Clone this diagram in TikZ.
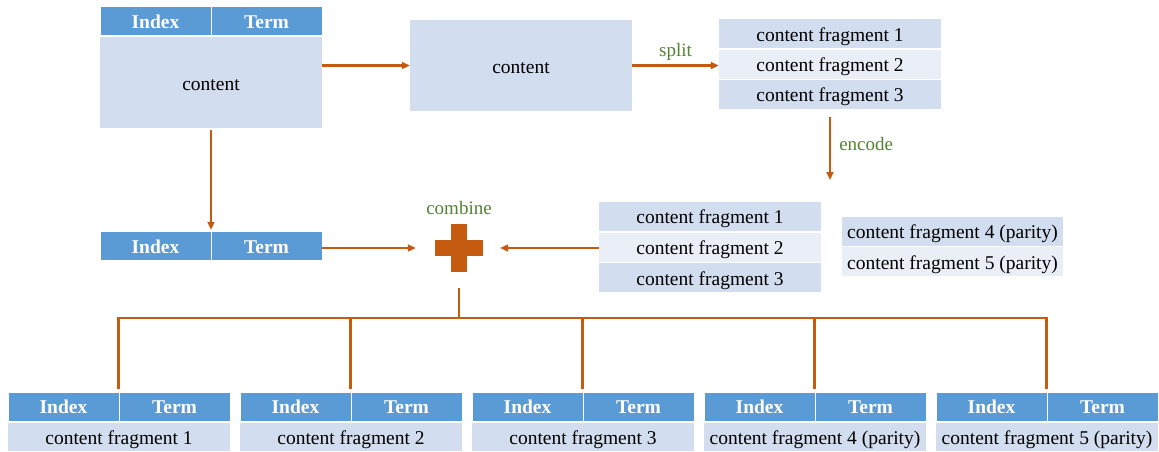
\documentclass[tikz,border=0pt]{standalone}
\usepackage{fontspec}
\setmainfont{Liberation Serif}
\usepackage{tikz}
\usetikzlibrary{positioning}
\usetikzlibrary{arrows.meta}
\usepackage{xcolor}
\definecolor{hdrblue}{HTML}{5B9BD5}
\definecolor{cellblue}{HTML}{D2DEEF}
\definecolor{cellpale}{HTML}{E9EEF7}
\definecolor{linkorange}{HTML}{C55A11}
\definecolor{labelgreen}{HTML}{548235}

\begin{document}
\begin{tikzpicture}[
    x=1pt, y=-1pt,
    hdr/.style={fill=hdrblue, text=white, font=\fontsize{19.5}{21}\selectfont\bfseries,
        minimum width=110pt, minimum height=28pt, inner sep=0pt,
        text height=14.5pt, text depth=0pt},
    cell/.style={fill=cellblue, font=\fontsize{19.5}{21}\selectfont,
        minimum width=222pt, minimum height=29pt, inner sep=0pt,
        text height=16pt, text depth=1pt},
    pale/.style={cell, fill=cellpale},
    arrow/.style={-{Triangle[length=8pt,width=7pt]}, line width=2.5pt, linkorange},
    wire/.style={line width=2.5pt, linkorange},
    tag/.style={text=labelgreen, font=\fontsize{19}{21}\selectfont, inner sep=0pt,
        text height=13pt, text depth=0pt}
]
    \useasboundingbox (0,0) rectangle (1159,451);

    % Original record
    \node[hdr] (idxA) at (155.5,21) {Index};
    \node[hdr] (termA) at (266.5,21) {Term};
    \node[cell, minimum height=91pt] (contentA) at (211,82.5) {content};

    % Content and its split
    \node[cell, minimum height=91pt] (contentB) at (521,65.5) {content};
    \draw[arrow] (contentA.east |- contentB.west) -- (contentB.west);

    \node[cell] (fragA1) at (830,33.5) {content fragment 1};
    \node[pale] (fragA2) at (830,64) {content fragment 2};
    \node[cell] (fragA3) at (830,94) {content fragment 3};
    \draw[arrow] (contentB.east) -- node[tag, above=8pt] {split} (contentB.east -| fragA2.west);

    % Encode
    \coordinate (encodeEnd) at (830,180);
    \draw[arrow, shorten <=8pt] (fragA3.south) -- node[tag, right=8pt] {encode} (encodeEnd);

    % Index / Term after content removed
    \node[hdr] (idxB) at (155.5,246) {Index};
    \node[hdr] (termB) at (266.5,246) {Term};
    \draw[arrow, shorten <=2pt, shorten >=2pt] (contentA.south) -- (contentA.south |- idxB.north);

    % Combine
    \node[fill=linkorange, minimum width=48pt, minimum height=16pt, inner sep=0pt] (plusH) at (459,248) {};
    \node[fill=linkorange, minimum width=16pt, minimum height=48pt, inner sep=0pt] (plusV) at (459,248) {};
    \node[tag] (combine) at (459,208) {combine};

    \node[cell] (fragB1) at (710,216) {content fragment 1};
    \node[pale] (fragB2) at (710,247) {content fragment 2};
    \node[cell] (fragB3) at (710,277.5) {content fragment 3};

    \node[cell, minimum width=221pt] (parity4) at (952.5,231) {content fragment 4 (parity)};
    \node[pale, minimum width=221pt] (parity5) at (952.5,261.5) {content fragment 5 (parity)};

    \draw[arrow, shorten >=19pt] (plusH.west -| termB.east) -- (plusH.west);
    \draw[arrow, shorten >=17pt] (plusH.east -| fragB2.west) -- (plusH.east);

    % Distribution to the five records
    \coordinate (bus) at (459,318);
    \draw[wire, shorten <=16pt] (plusV.south) -- (bus);

    \foreach \i/\txt in {1/content fragment 1, 2/content fragment 2, 3/content fragment 3,
                         4/content fragment 4 (parity), 5/content fragment 5 (parity)} {
        \node[hdr] (idx\i) at ({63.5+(\i-1)*232},406.5) {Index};
        \node[hdr] (term\i) at ({174.5+(\i-1)*232},406.5) {Term};
        \node[cell, minimum height=28pt] (frag\i) at ({119+(\i-1)*232},437) {\txt};
        \draw[wire, shorten >=3pt] (idx\i.east |- bus) -- (idx\i.north east);
    }
    \draw[wire] ([xshift=-1.25pt]idx1.east |- bus) -- ([xshift=1.25pt]idx5.east |- bus);
\end{tikzpicture}
\end{document}
